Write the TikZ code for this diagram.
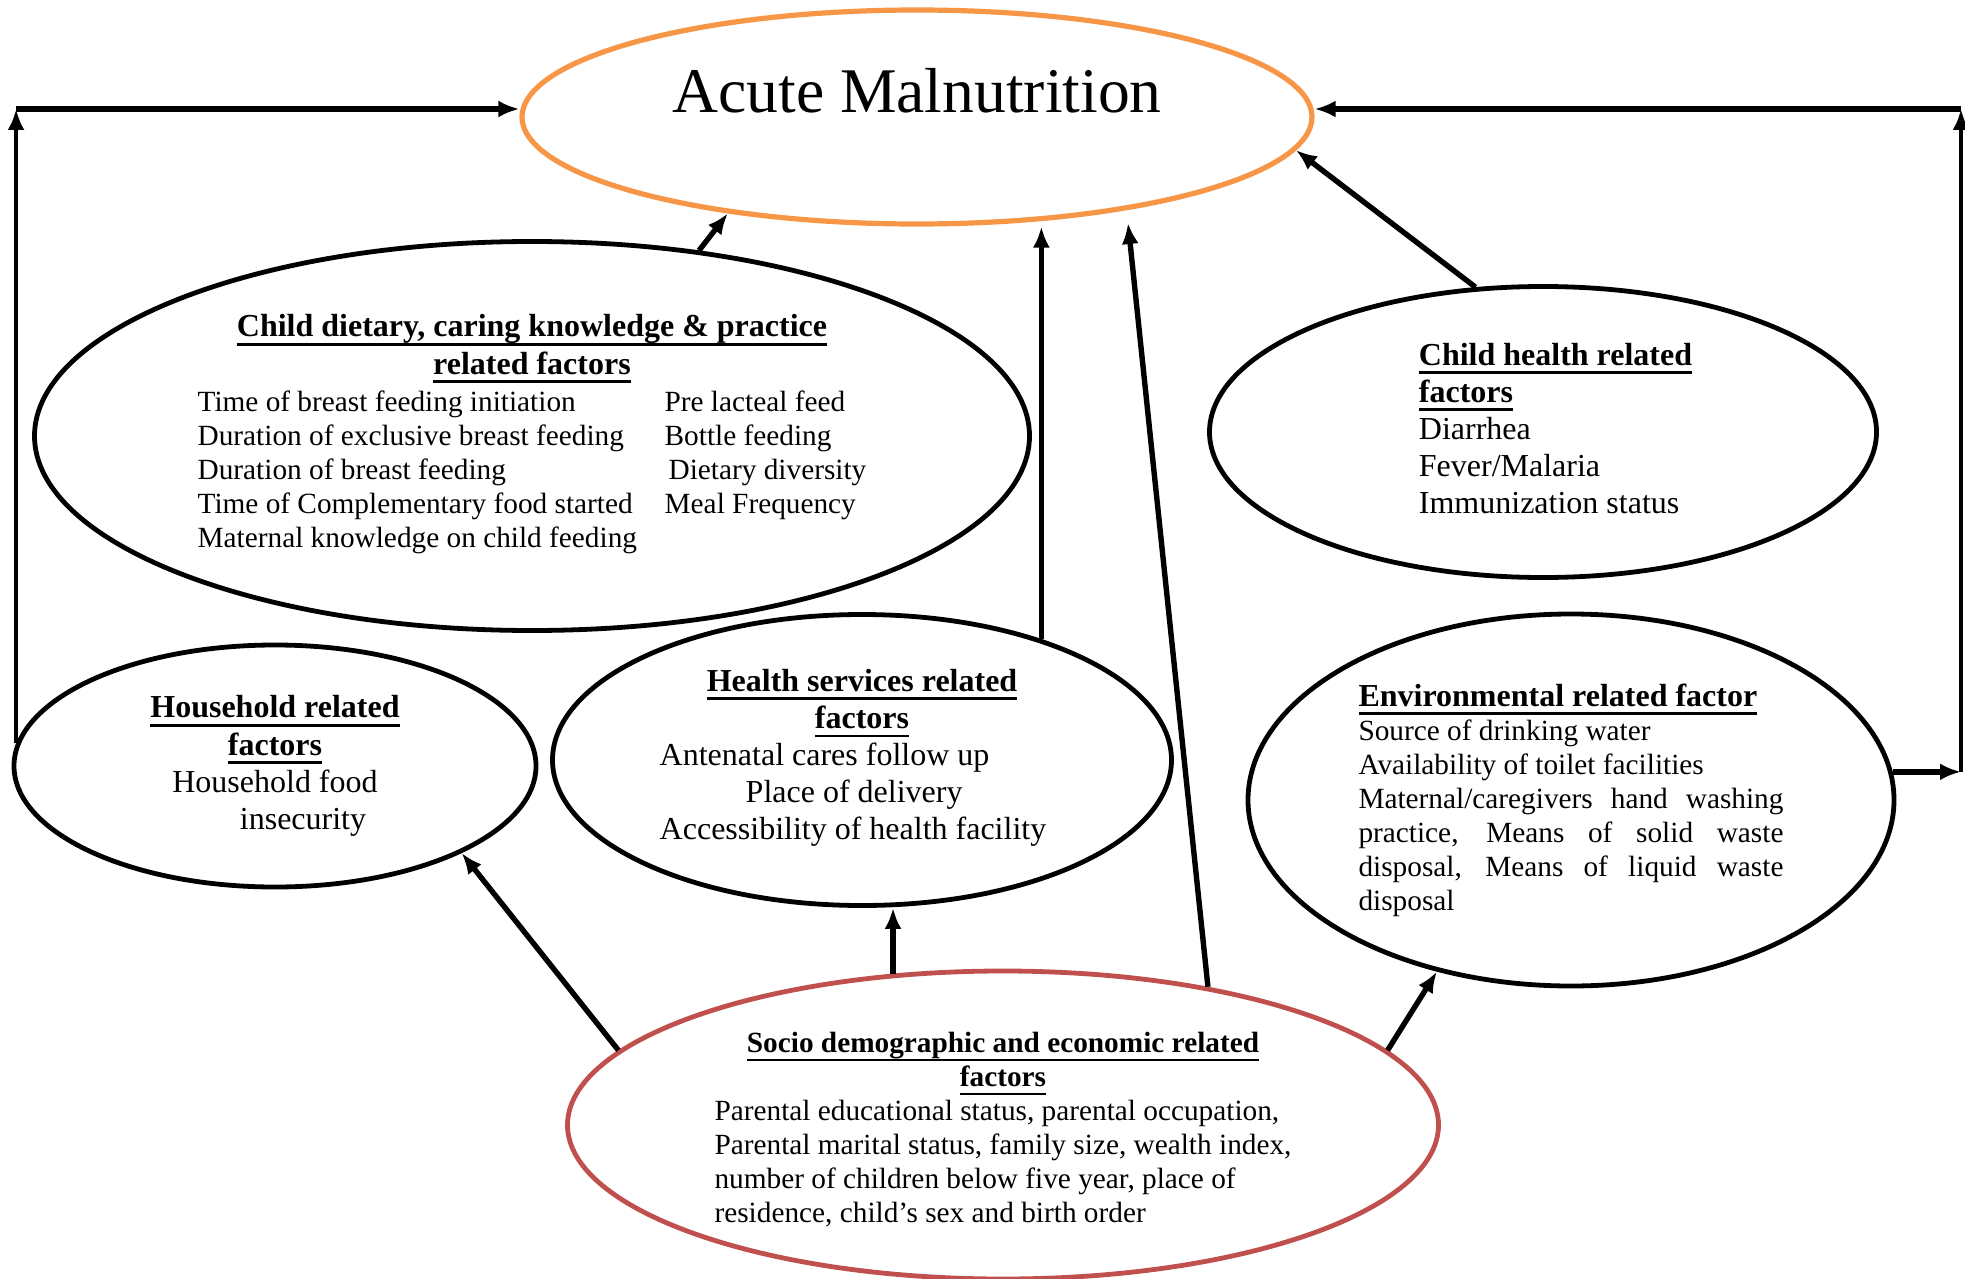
\documentclass[tikz,border=0pt]{standalone}
\usepackage{fontspec}
\setmainfont{Liberation Serif}
\usetikzlibrary{shapes.geometric,arrows.meta}

\definecolor{malorange}{HTML}{F79646}
\definecolor{socred}{HTML}{C0504D}

\newsavebox{\hdbox}
\newcommand{\hd}[1]{\sbox{\hdbox}{\textbf{#1}}\rlap{\rule[-.28em]{\wd\hdbox}{.085em}}\usebox{\hdbox}}
\newcommand{\bodyfont}{\fontsize{14.65}{17}\selectfont}
\newcommand{\bigfont}{\fontsize{16}{18.6}\selectfont}

\tikzset{
  factor/.style={ellipse, draw, line width=2.4pt, inner sep=0pt},
  arr/.style={-{Latex[length=10.5pt,width=8.5pt]}, line width=2.7pt},
  loopline/.style={-{Latex[length=10.5pt,width=8.5pt]}, line width=2.3pt},
}

\begin{document}
\begin{tikzpicture}[x=0.5pt,y=-0.5pt]
		\useasboundingbox (0,0) rectangle (1965,1279);
		
		% Outcome
		\node[factor, draw=malorange, line width=2.6pt, minimum width=395pt, minimum height=107pt] (acute) at (917,117) {};
		\node[font=\fontsize{31.8}{36}\selectfont] (acutetext) at (917,91) {Acute Malnutrition};
		
		% Factor groups
		\node[factor, minimum width=497.5pt, minimum height=194.5pt, align=center, font=\bigfont] (diet) at (532,436)
		{\hd{Child dietary, caring knowledge \& practice}\\ \hd{related factors}\\
		{\bodyfont\begin{tabular}[t]{@{}p{233.5pt}@{}l@{}}
		Time of breast feeding initiation & Pre lacteal feed\\
		Duration of exclusive breast feeding & Bottle feeding\\
		Duration of breast feeding & \hspace*{2pt}Dietary diversity\\
		Time of Complementary food started & Meal Frequency\\
		Maternal knowledge on child feeding &
		\end{tabular}}};
		
		\node[factor, minimum width=333.5pt, minimum height=145.5pt, font=\bigfont] (child) at (1543,432)
		{\begin{tabular}{@{\hspace*{12.5pt}}l@{}}
		\hd{Child health related}\\ \hd{factors}\\ Diarrhea\\ Fever/Malaria\\ Immunization status
		\end{tabular}};
		
		\node[factor, minimum width=261pt, minimum height=121pt, align=center, font=\bigfont] (house) at (275,766)
		{\hd{Household related}\\ \hd{factors}\\ Household food\\ \hspace*{28pt}insecurity};
		
		\node[factor, minimum width=309.5pt, minimum height=145.5pt, align=center, font=\bigfont] (health) at (862,760)
		{\hd{Health services related}\\ \hd{factors}\\
		\hspace*{-9pt}\begin{tabular}[t]{@{}l@{}}
		Antenatal cares follow up\\
		\hspace*{43pt}Place of delivery\\
		Accessibility of health facility
		\end{tabular}};
		
		\node[factor, minimum width=323pt, minimum height=186pt, align=left, font=\bodyfont] (env) at (1571,800)
		{{\fontsize{16}{17}\selectfont\hd{Environmental related factor}}\\
		Source of drinking water\\
		Availability of toilet facilities\\
		\makebox[212.5pt][s]{Maternal/caregivers hand washing}\\
		\makebox[212.5pt][s]{practice, Means of solid waste}\\
		\makebox[212.5pt][s]{disposal, Means of liquid waste}\\
		disposal};
		
		\node[factor, draw=socred, minimum width=435.5pt, minimum height=154pt, align=center, font=\bodyfont] (socio) at (1003,1125)
		{\rule{0pt}{18pt}\hd{Socio demographic and economic related}\\ \hd{factors}\\
		\begin{tabular}[t]{@{}l@{}}
		Parental educational status, parental occupation,\\
		Parental marital status, family size, wealth index,\\
		number of children below five year, place of\\
		residence, child’s sex and birth order
		\end{tabular}};
		
		% Corners of the outer loops
		\coordinate (ltop) at (18,109);
		\coordinate (rtop) at (1961,109);
		\coordinate (midtip) at (1128,223);
		
		% Left loop
		\draw[loopline] (house.175) -- (house.175 |- ltop);
		\draw[arr] (house.175 |- ltop) -- (ltop -| acute.west);
		
		% Right loop
		\draw[arr] (env.5) -- (env.5 -| rtop);
		\draw[loopline] (env.5 -| rtop) -- (rtop);
		\draw[arr] (rtop) -- (rtop -| acute.east);
		
		% Direct paths
		\draw[arr] (diet.48) -- (acute.207);
		\draw[arr] (health.34) -- (health.34 |- acute.south);
		\draw[arr] (child.115) -- (acute.-5);
		\draw[arr] (socio.34) -- (midtip);
		
		% From socio demographic factors
		\draw[arr] (socio.169) -- (house.-25);
		\draw[arr] (socio.126) -- (socio.126 |- health.south);
		\draw[arr] (socio.11) -- (env.232);
	\end{tikzpicture}
\end{document}
